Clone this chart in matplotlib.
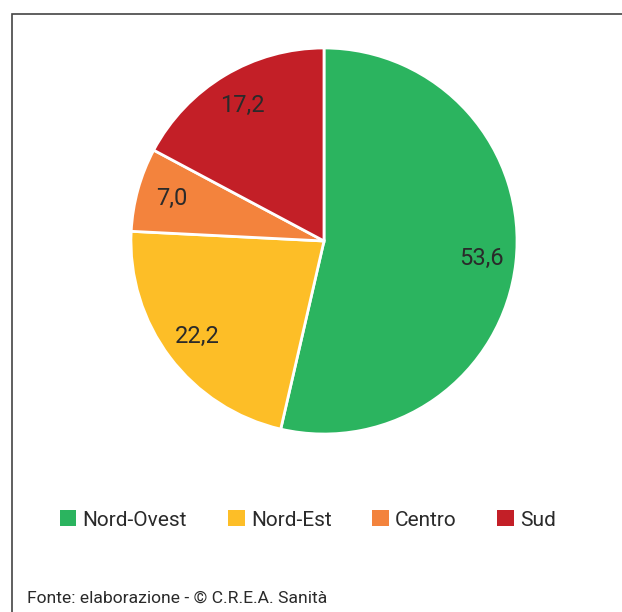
import matplotlib.pyplot as plt
from matplotlib.patches import Patch, Rectangle

# Quote per ripartizione (%)
regioni = ['Nord-Ovest', 'Nord-Est', 'Centro', 'Sud']
quote = [53.6, 22.2, 7.0, 17.2]
colori = ['#2BB45F', '#FDBE27', '#F3833D', '#C31F27']

plt.rcParams['font.family'] = ['Roboto', 'DejaVu Sans']
testo = '#2a2a2a'

fig = plt.figure(figsize=(6.22, 6.12), dpi=100)

# cornice (aperta verso destra e in basso)
fig.patches.append(Rectangle((12 / 622, -0.5), 2.0, 1 - 14 / 612 + 0.5,
                             transform=fig.transFigure, fill=False,
                             edgecolor='#444444', linewidth=1.2))

ax = fig.add_axes([130 / 622, 1 - 435 / 612, 388 / 622, 388 / 612])
etichette = iter([f'{v:.1f}'.replace('.', ',') for v in quote])
ax.pie(quote, colors=colori, startangle=90, counterclock=False,
       autopct=lambda p: next(etichette), pctdistance=0.82,
       wedgeprops=dict(edgecolor='white', linewidth=2),
       textprops=dict(fontsize=17, color=testo))
ax.set_xlim(-1.005, 1.005)
ax.set_ylim(-1.005, 1.005)
ax.set_aspect('auto')
ax.axis('off')

maniglie = [Patch(facecolor=c, edgecolor='none') for c in colori]
fig.legend(maniglie, regioni, loc='center', bbox_to_anchor=(308 / 622, 1 - 520 / 612),
           ncol=4, frameon=False, fontsize=15, handlelength=0.8, handleheight=0.8,
           handletextpad=0.3, columnspacing=1.95, labelcolor=testo)

fig.text(27 / 622, 1 - 598 / 612, 'Fonte: elaborazione - © C.R.E.A. Sanità',
         fontsize=12.6, color=testo, va='center', ha='left')

fig.savefig('out.png', dpi=100)
